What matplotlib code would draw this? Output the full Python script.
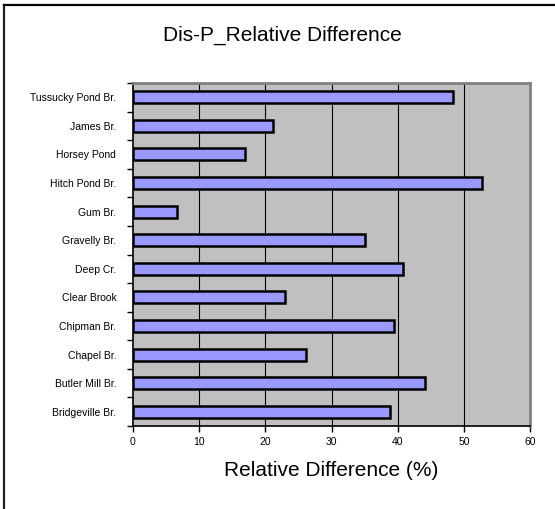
import matplotlib
matplotlib.use("Agg")
import matplotlib.pyplot as plt
from matplotlib.lines import Line2D
import numpy as np

plt.rcParams['font.family'] = ['Liberation Sans', 'DejaVu Sans']

# Sites listed bottom to top
sites = ["Bridgeville Br.", "Butler Mill Br.", "Chapel Br.", "Chipman Br.",
         "Clear Brook", "Deep Cr.", "Gravelly Br.", "Gum Br.",
         "Hitch Pond Br.", "Horsey Pond", "James Br.", "Tussucky Pond Br."]
rel_diff = [38.9, 44.2, 26.1, 39.4, 23.0, 40.8, 35.1, 6.6,
            52.8, 17.0, 21.1, 48.3]
x_ticks = [0, 10, 20, 30, 40, 50, 60]

W, H = 555, 509
fig = plt.figure(figsize=(W / 100, H / 100), dpi=100)
fig.patch.set_facecolor("white")

# Chart frame (left and top edges visible)
fig.add_artist(Line2D([4 / W, 4 / W], [0, 1 - 5 / H], color="#202020", lw=1.6,
                      transform=fig.transFigure))
fig.add_artist(Line2D([4 / W, 1], [1 - 5 / H, 1 - 5 / H], color="#000000", lw=1.6,
                      transform=fig.transFigure))

left, right, top, bottom = 133, 530, 83, 426
ax = fig.add_axes([left / W, 1 - bottom / H, (right - left) / W, (bottom - top) / H])
ax.set_facecolor("#C0C0C0")

y = np.arange(len(sites))
ax.barh(y, rel_diff, height=0.42, color="#9999FF", edgecolor="black",
        linewidth=1.8, zorder=3)

ax.set_xlim(0, 60)
ax.set_ylim(-0.5, len(sites) - 0.5)
ax.set_xticks(x_ticks)
ax.set_xticklabels([str(v) for v in x_ticks], fontsize=7.5)
for v in x_ticks[1:-1]:
    ax.axvline(v, color="black", lw=0.8, zorder=1)

ax.set_yticks(y)
ax.set_yticklabels(sites, fontsize=7.5)
ax.tick_params(axis="y", length=0, pad=12)
ax.set_yticks(np.arange(-0.5, len(sites), 1), minor=True)
ax.tick_params(axis="y", which="minor", length=4, width=1, direction="out")
ax.tick_params(axis="x", length=4, width=1, direction="out", pad=4)

for s in ["left", "bottom"]:
    ax.spines[s].set_color("black")
    ax.spines[s].set_linewidth(1.2)
for s in ["top", "right"]:
    ax.spines[s].set_color("#808080")
    ax.spines[s].set_linewidth(2)

ax.set_xlabel("Relative Difference (%)", fontsize=15, labelpad=10)
fig.text(282 / W, 1 - 35 / H, "Dis-P_Relative Difference", fontsize=15,
         ha="center", va="center")

fig.savefig("out.png", dpi=100)
